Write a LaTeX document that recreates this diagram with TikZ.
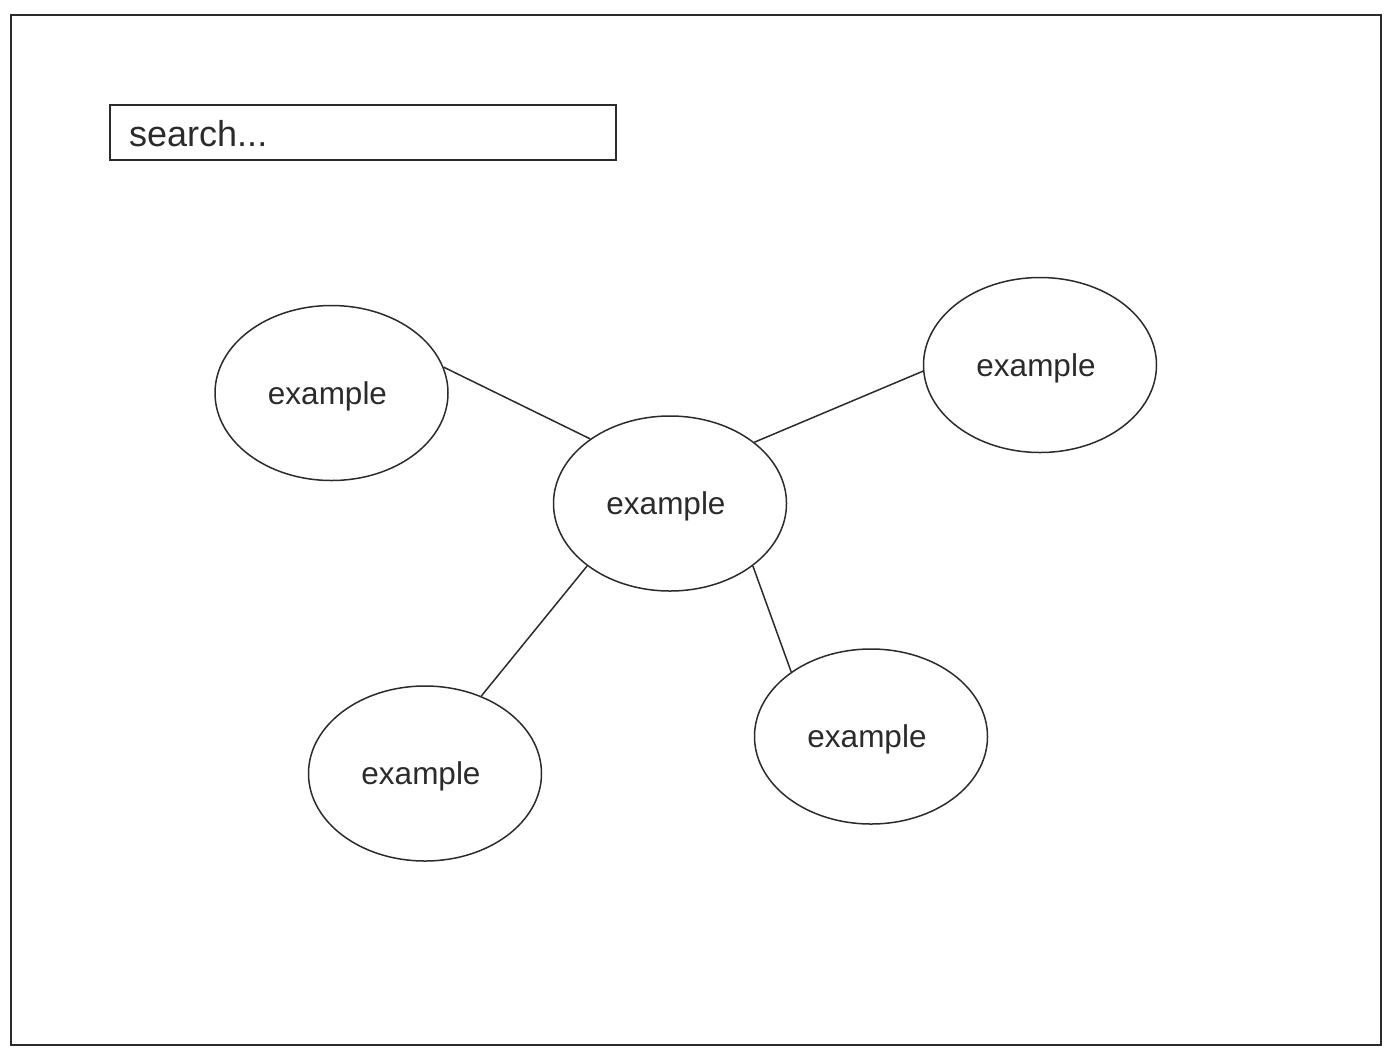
\documentclass[tikz,border=0pt]{standalone}
\usepackage{fontspec}
\setmainfont{Liberation Sans}
\usetikzlibrary{shapes.geometric}
\definecolor{ink}{HTML}{2B2B2B}
\tikzset{
  bubble/.style={ellipse, draw=ink, line width=1.5pt, minimum width=233pt, minimum height=175pt, inner sep=0pt,
    label={[text=ink, font=\fontsize{31.5}{36}\selectfont, xshift=-4pt, yshift=-3pt]center:#1}},
  link/.style={draw=ink, line width=1.5pt},
}
\begin{document}
\begin{tikzpicture}[x=1pt,y=-1pt]
\useasboundingbox (0,0) rectangle (1392,1058);
\draw[ink, line width=2pt] (11,15) rectangle (1381,1045);
\node[draw=ink, line width=2pt, minimum width=506pt, minimum height=55pt, inner sep=0pt] (search) at (363,132.5) {};
\node[anchor=west, text=ink, font=\fontsize{36}{40}\selectfont, inner sep=0pt] (searchtext) at (129,133.5) {search...};
\node[bubble=example] (c) at (670,503.5) {};
\node[bubble=example] (lt) at (331.5,393) {};
\node[bubble=example] (rt) at (1040,365) {};
\node[bubble=example] (lb) at (425,773.5) {};
\node[bubble=example] (rb) at (871,736.5) {};
\draw[link] (c.141.3) -- (lt.13.3);
\draw[link] (c.36.5) -- (rt.183.5);
\draw[link] (c.217.6) -- (lb.54.1);
\draw[link] (c.323.6) -- (rb.141.8);
\end{tikzpicture}
\end{document}
